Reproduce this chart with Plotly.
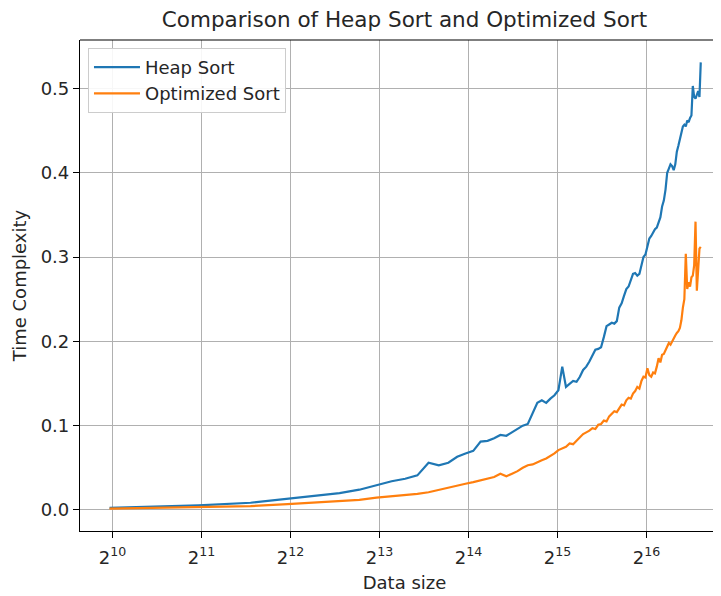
import plotly.graph_objects as go

# Data sizes: 1000, 2000, ..., 100000
k_values = list(range(1, 101))
data_size = [1000 * k for k in k_values]

heap_sort = [
    0.0025, 0.0055, 0.0085, 0.0135, 0.017, 0.020, 0.024, 0.029, 0.034, 0.037,
    0.041, 0.056, 0.053, 0.056, 0.063, 0.067, 0.070, 0.081, 0.082, 0.085,
    0.089, 0.088, 0.092, 0.096, 0.100, 0.102, 0.114, 0.127, 0.130, 0.127,
    0.132, 0.136, 0.142, 0.170, 0.146, 0.150, 0.153, 0.152, 0.158, 0.166,
    0.170, 0.176, 0.184, 0.190, 0.191, 0.193, 0.205, 0.218, 0.220, 0.222,
    0.221, 0.224, 0.240, 0.245, 0.254, 0.262, 0.265, 0.272, 0.280, 0.281,
    0.278, 0.280, 0.292, 0.300, 0.303, 0.312, 0.322, 0.325, 0.330, 0.333,
    0.335, 0.342, 0.347, 0.360, 0.367, 0.380, 0.400, 0.405, 0.410, 0.408,
    0.403, 0.410, 0.425, 0.432, 0.440, 0.450, 0.455, 0.457, 0.455, 0.462,
    0.460, 0.465, 0.468, 0.503, 0.490, 0.488, 0.492, 0.497, 0.490, 0.531,
]

optimized_sort = [
    0.0015, 0.003, 0.0045, 0.007, 0.009, 0.0105, 0.012, 0.0145, 0.016, 0.0175,
    0.019, 0.021, 0.024, 0.026, 0.029, 0.031, 0.033, 0.035, 0.037, 0.039,
    0.043, 0.040, 0.043, 0.046, 0.050, 0.053, 0.054, 0.057, 0.059, 0.061,
    0.064, 0.067, 0.071, 0.073, 0.075, 0.079, 0.078, 0.082, 0.086, 0.090,
    0.092, 0.094, 0.097, 0.096, 0.101, 0.102, 0.106, 0.105, 0.111, 0.114,
    0.117, 0.116, 0.121, 0.125, 0.124, 0.130, 0.133, 0.132, 0.138, 0.141,
    0.146, 0.144, 0.153, 0.158, 0.157, 0.168, 0.160, 0.158, 0.163, 0.162,
    0.170, 0.180, 0.175, 0.184, 0.185, 0.190, 0.195, 0.198, 0.196, 0.200,
    0.205, 0.207, 0.210, 0.212, 0.216, 0.225, 0.240, 0.250, 0.304, 0.262,
    0.270, 0.265, 0.276, 0.278, 0.290, 0.342, 0.260, 0.290, 0.310, 0.312,
]

x_tick_vals = [2 ** p for p in range(10, 17)]
x_tick_text = [f"2<sup>{p}</sup>" for p in range(10, 17)]
y_tick_vals = [0.0, 0.1, 0.2, 0.3, 0.4, 0.5]
y_tick_text = ["0.0", "0.1", "0.2", "0.3", "0.4", "0.5"]

FONT = "DejaVu Sans"
TXT = "#262626"

fig = go.Figure()
fig.add_trace(go.Scatter(x=data_size, y=heap_sort, mode="lines", name="Heap Sort",
                         line=dict(color="#1f77b4", width=2.2)))
fig.add_trace(go.Scatter(x=data_size, y=optimized_sort, mode="lines", name="Optimized Sort",
                         line=dict(color="#ff7f0e", width=2.2)))

log2_to_log10 = 0.30103
fig.update_layout(
    width=721, height=596,
    margin=dict(l=72, r=0, t=32, b=72.5, autoexpand=False),
    paper_bgcolor="white", plot_bgcolor="white",
    font=dict(family=FONT, color=TXT, size=18),
    title=dict(text="Comparison of Heap Sort and Optimized Sort",
               x=0.5, xref="paper", xanchor="center",
               y=1 - 11 / 596, yref="container", yanchor="middle",
               font=dict(size=21.5, family=FONT, color=TXT)),
    showlegend=True,
    legend=dict(x=0.0123, y=0.984, xanchor="left", yanchor="top",
                bgcolor="rgba(255,255,255,0.9)", bordercolor="#cccccc", borderwidth=1,
                font=dict(size=18, family=FONT, color=TXT),
                itemwidth=46, tracegroupgap=0),
    xaxis=dict(type="log",
               range=[9.634 * log2_to_log10, 16.927 * log2_to_log10],
               tickvals=x_tick_vals, ticktext=x_tick_text,
               showgrid=True, gridcolor="#b0b0b0", gridwidth=1,
               ticks="outside", ticklen=6, tickcolor="black", tickwidth=1,
               ticklabelstandoff=4,
               showline=True, linecolor="black", linewidth=1.2, mirror=False,
               zeroline=False,
               tickfont=dict(size=18, family=FONT, color=TXT),
               title=dict(text="Data size", font=dict(size=18, family=FONT, color=TXT),
                          standoff=9)),
    yaxis=dict(range=[-0.025, 0.5575],
               tickvals=y_tick_vals, ticktext=y_tick_text,
               showgrid=True, gridcolor="#b0b0b0", gridwidth=1,
               ticks="outside", ticklen=6, tickcolor="black", tickwidth=1,
               showline=True, linecolor="black", linewidth=1.2, mirror=False,
               zeroline=False,
               tickfont=dict(size=18, family=FONT, color=TXT),
               title=dict(text="Time Complexity", font=dict(size=18, family=FONT, color=TXT),
                          standoff=9)),
)
# top spine
fig.add_shape(type="line", xref="paper", yref="paper", x0=0, x1=1, y0=1, y1=1,
              line=dict(color="black", width=1.2))

fig.write_html("out.html")
